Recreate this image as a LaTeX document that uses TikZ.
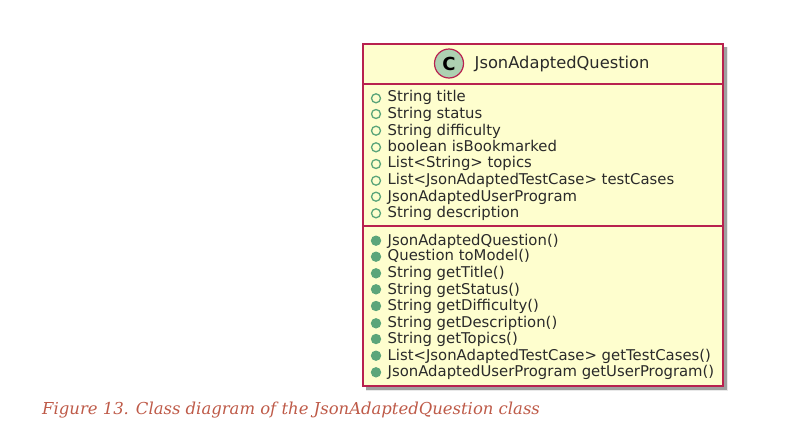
\documentclass[tikz,border=0pt]{standalone}
\usepackage{fontspec}
\setmainfont{DejaVu Sans}
\newfontfamily\capfont{DejaVu Serif}
\definecolor{boxfill}{HTML}{FEFECE}
\definecolor{boxline}{HTML}{B8214F}
\definecolor{spotfill}{HTML}{ADD1B2}
\definecolor{pubgreen}{HTML}{5BA57A}
\definecolor{capred}{HTML}{BE5A48}
\definecolor{txt}{HTML}{2A2A2A}
\tikzset{
  x=1pt,y=-1pt,
  member/.style={anchor=base west,inner sep=0pt,text=txt,font=\fontsize{14.85}{16}\selectfont},
  fieldmark/.style={circle,draw=pubgreen,line width=1.3pt,fill=none,minimum size=9pt,inner sep=0pt},
  methodmark/.style={circle,draw=pubgreen,line width=1.3pt,fill=pubgreen,minimum size=9pt,inner sep=0pt},
  sepline/.style={draw=boxline,line width=1.8pt}
}
\begin{document}
\begin{tikzpicture}
\useasboundingbox (0,0) rectangle (808,434);
\fill[gray!50,opacity=.35] (366,47) rectangle (728,391);
\fill[gray,opacity=.7] (366,47) rectangle (726.5,389.5);
\node[draw=boxline,line width=1.8pt,fill=boxfill,minimum width=360pt,minimum height=342pt,inner sep=0pt,anchor=north west] (box) at (362,43) {};
\node[circle,draw=boxline,line width=1.2pt,fill=spotfill,minimum size=29pt,inner sep=0pt] (spot) at (449,63.5) {\fontsize{18}{20}\selectfont\bfseries C};
\node[anchor=base west,inner sep=0pt,text=txt,font=\fontsize{16.3}{18}\selectfont] (title) at (474.5,68.5) {JsonAdaptedQuestion};
\coordinate (s1l) at (362,84); \coordinate (s1r) at (722,84);
\coordinate (s2l) at (362,226); \coordinate (s2r) at (722,226);
\draw[sepline] (s1l) -- (s1r);
\draw[sepline] (s2l) -- (s2r);
\foreach \n/\y/\b/\t in {
 f1/98.3/101.7/String title, f2/114/118.3/String status, f3/130.7/135/String difficulty, f4/147.3/151.7/boolean isBookmarked,
 f5/164/167.7/List<String> topics, f6/180.7/184.3/List<JsonAdaptedTestCase> testCases, f7/196.7/201/JsonAdaptedUserProgram, f8/213.3/217.7/String description}{
  \node[fieldmark] (m\n) at (376,\y) {};
  \node[member] (\n) at (387.5,\b) {\t};
}
\foreach \n/\y/\b/\t in {
 g1/240.7/245/JsonAdaptedQuestion(), g2/256.7/260.7/Question toModel(), g3/273.3/277.3/String getTitle(), g4/289.3/294/String getStatus(),
 g5/306/310.7/String getDifficulty(), g6/323.3/327.3/String getDescription(), g7/339/343.3/String getTopics(), g8/355.7/360/List<JsonAdaptedTestCase> getTestCases(), g9/372.3/376.7/JsonAdaptedUserProgram getUserProgram()}{
  \node[methodmark] (m\n) at (376,\y) {};
  \node[member] (\n) at (387.5,\b) {\t};
}
\node[anchor=base west,inner sep=0pt,text=capred,font=\capfont\itshape\fontsize{16.45}{18}\selectfont] (cap) at (42,414) {Figure 13. Class diagram of the JsonAdaptedQuestion class};
\end{tikzpicture}
\end{document}
